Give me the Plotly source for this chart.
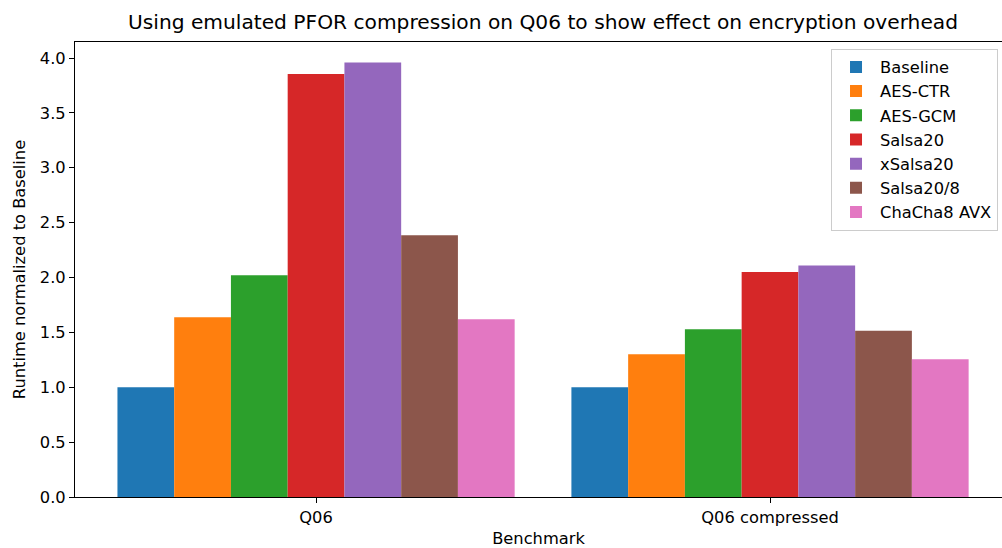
import plotly.graph_objects as go

benchmarks = ["Q06", "Q06 compressed"]
series_names = ["Baseline", "AES-CTR", "AES-GCM", "Salsa20", "xSalsa20", "Salsa20/8", "ChaCha8 AVX"]
baseline = [1.0, 1.0]
aes_ctr = [1.637, 1.30]
aes_gcm = [2.02, 1.528]
salsa20 = [3.854, 2.05]
xsalsa20 = [3.96, 2.11]
salsa20_8 = [2.384, 1.515]
chacha8_avx = [1.619, 1.255]
y_ticks = [0.0, 0.5, 1.0, 1.5, 2.0, 2.5, 3.0, 3.5, 4.0]

series_values = [baseline, aes_ctr, aes_gcm, salsa20, xsalsa20, salsa20_8, chacha8_avx]
colors = ["#1f77b4", "#ff7f0e", "#2ca02c", "#d62728", "#9467bd", "#8c564b", "#e377c2"]

FONT = "DejaVu Sans"
FS = 16.3

fig = go.Figure()
for i, (name, vals) in enumerate(zip(series_names, series_values)):
    fig.add_trace(go.Bar(
        x=benchmarks, y=vals, name=name,
        marker=dict(color=colors[i], line=dict(width=0)),
        legendgroup=name,
    ))

fig.update_layout(
    width=1002, height=548,
    margin=dict(l=75, r=0, t=42, b=51),
    paper_bgcolor="white", plot_bgcolor="white",
    barmode="group", bargap=0.125, bargroupgap=0,
    font=dict(family=FONT, size=FS, color="black"),
    title=dict(
        text="Using emulated PFOR compression on Q06 to show effect on encryption overhead",
        x=543 / 1002, xref="container", xanchor="center",
        y=1 - 22 / 548, yref="container", yanchor="middle",
        font=dict(family=FONT, size=20.2, color="black"),
    ),
    legend=dict(
        x=0.9957, xanchor="right", y=0.985, yanchor="top",
        bgcolor="rgba(255,255,255,0.8)", bordercolor="#cccccc", borderwidth=1,
        font=dict(family=FONT, size=FS, color="black"),
        traceorder="grouped", tracegroupgap=0,
        itemwidth=38,
    ),
    xaxis=dict(
        type="category",
        range=[-0.531, (1002 - 316) / 454],
        showline=True, linecolor="black", linewidth=1, mirror=True,
        ticks="outside", ticklen=5, tickcolor="black",
        showgrid=False, zeroline=False,
        tickfont=dict(family=FONT, size=FS, color="black"),
        title=dict(text="Benchmark", font=dict(family=FONT, size=FS, color="black"), standoff=8),
    ),
    yaxis=dict(
        range=[0, 4.146],
        tickvals=y_ticks, tickformat=".1f",
        showline=True, linecolor="black", linewidth=1, mirror=False,
        ticks="outside", ticklen=5, tickcolor="black",
        showgrid=False, zeroline=False,
        tickfont=dict(family=FONT, size=FS, color="black"),
        title=dict(text="Runtime normalized to Baseline", font=dict(family=FONT, size=FS, color="black"), standoff=10),
    ),
)

fig.write_html("out.html", config={"displayModeBar": False},
               post_script="document.body.style.margin='0';")
